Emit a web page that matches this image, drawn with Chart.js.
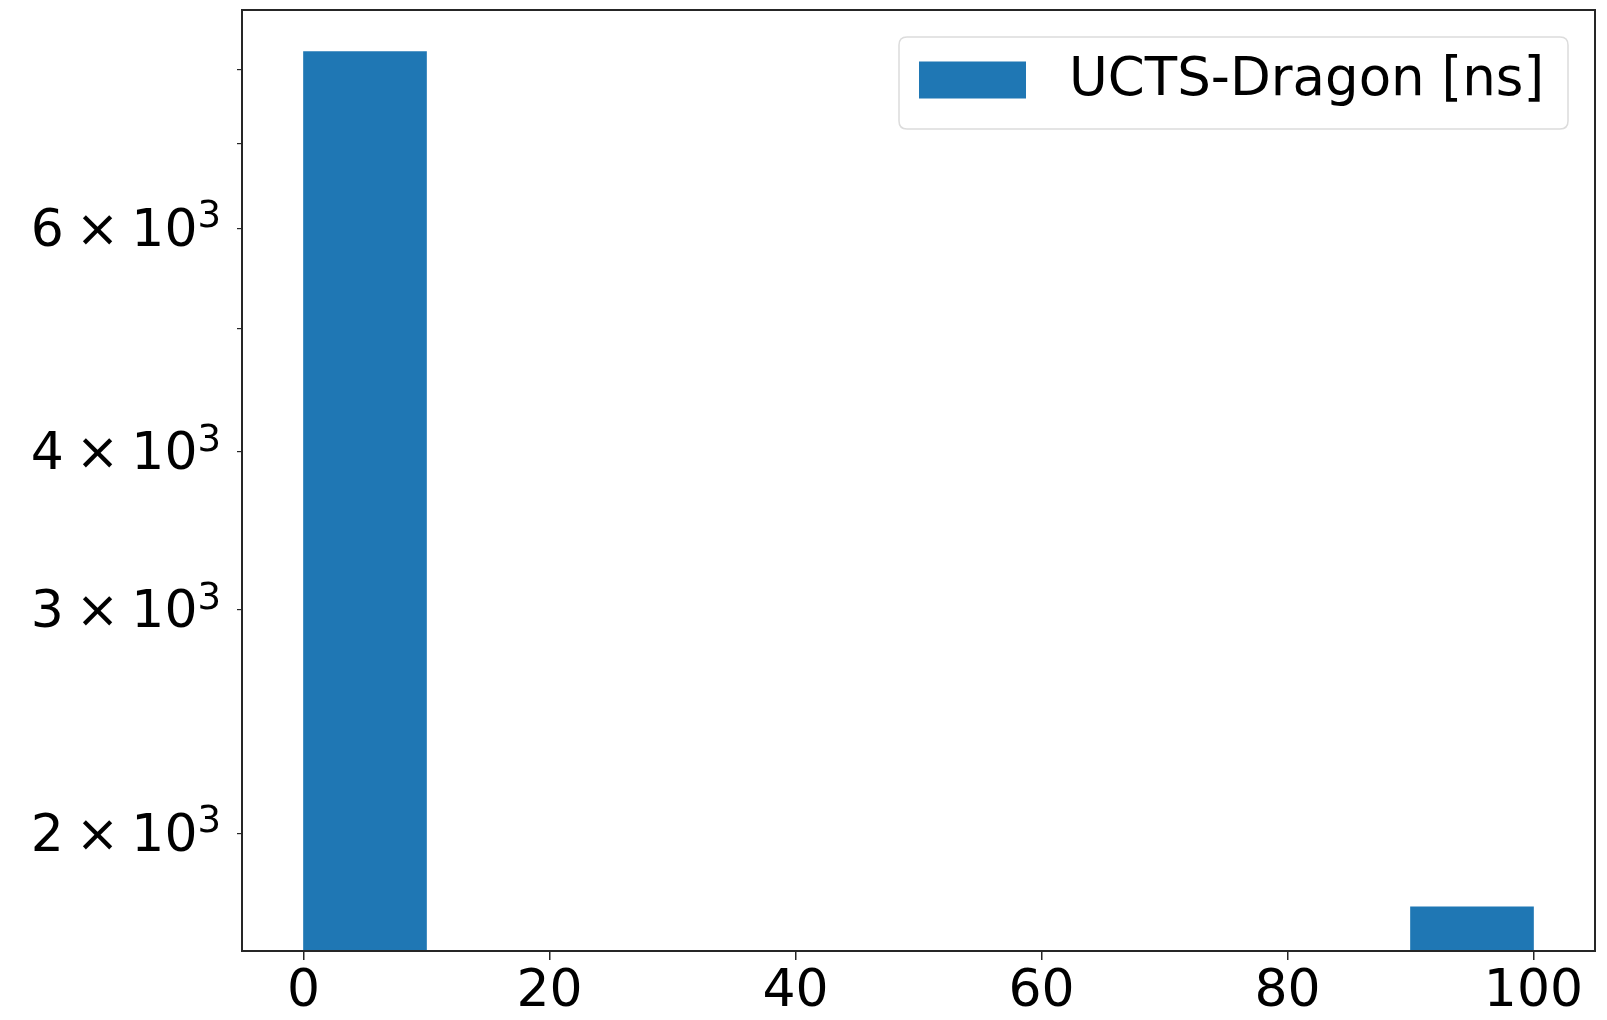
<!DOCTYPE html>
<html><head><meta charset="utf-8">
<script src="https://cdn.jsdelivr.net/npm/chart.js@4/dist/chart.umd.min.js"></script>
<style>html,body{margin:0;padding:0;background:#fff;overflow:hidden}#wrap{width:1607px;height:1020px;position:relative}</style>
</head><body><div id="wrap"><canvas id="c" width="1607" height="1020"></canvas></div>
<script>
const binCenters = [5, 15, 25, 35, 45, 55, 65, 75, 85, 95];
const counts = [8270, null, null, null, null, null, null, null, null, 1750];
const xTicks = [0, 20, 40, 60, 80, 100];
const yTicks = [2000, 3000, 4000, 5000, 6000, 7000, 8000];
const yLabeled = [2000, 3000, 4000, 6000];
const yExponent = 3;
const seriesLabel = 'UCTS-Dragon [ns]';
const barColor = '#1f77b4';
const FONT = "'DejaVu Sans', sans-serif";

const decor = {
  id: 'decor',
  afterDraw(chart) {
    const {ctx, chartArea: a} = chart;
    const ys = chart.scales.y;
    ctx.save();
    // spines
    ctx.strokeStyle = '#262626';
    ctx.lineWidth = 2;
    ctx.strokeRect(a.left, a.top, a.right - a.left, a.bottom - a.top);
    // y tick labels with mathtext-like superscript
    ctx.fillStyle = '#000';
    ctx.textAlign = 'right';
    ctx.textBaseline = 'alphabetic';
    const xr = a.left - 21;
    const gap = 12;
    yLabeled.forEach(v => {
      const y = ys.getPixelForValue(v);
      const mant = String(v / Math.pow(10, yExponent));
      ctx.font = '37px ' + FONT;
      const sup = String(yExponent);
      const wSup = ctx.measureText(sup).width;
      ctx.fillText(sup, xr, y - 1);
      ctx.font = '52px ' + FONT;
      let x = xr - wSup;
      ctx.fillText('10', x, y + 17.5);
      x -= ctx.measureText('10').width + gap;
      ctx.fillText('\u00d7', x, y + 17.5);
      x -= ctx.measureText('\u00d7').width + gap;
      ctx.fillText(mant, x, y + 17.5);
    });
    // legend
    const w = 669, h = 92;
    const x = a.right - 27 - w, y = a.top + 27;
    const r = 8;
    ctx.beginPath();
    ctx.moveTo(x + r, y); ctx.lineTo(x + w - r, y); ctx.quadraticCurveTo(x + w, y, x + w, y + r);
    ctx.lineTo(x + w, y + h - r); ctx.quadraticCurveTo(x + w, y + h, x + w - r, y + h);
    ctx.lineTo(x + r, y + h); ctx.quadraticCurveTo(x, y + h, x, y + h - r);
    ctx.lineTo(x, y + r); ctx.quadraticCurveTo(x, y, x + r, y); ctx.closePath();
    ctx.fillStyle = 'rgba(255,255,255,0.8)'; ctx.fill();
    ctx.strokeStyle = '#dcdcdc'; ctx.lineWidth = 1.5; ctx.stroke();
    ctx.fillStyle = chart.data.datasets[0].backgroundColor;
    ctx.fillRect(x + 20, y + 24.5, 107, 37);
    ctx.fillStyle = '#000';
    ctx.font = '53px ' + FONT;
    ctx.textBaseline = 'middle';
    ctx.textAlign = 'left';
    ctx.fillText(chart.data.datasets[0].label, x + 170, y + 44);
    ctx.restore();
  }
};

new Chart(document.getElementById('c'), {
  type: 'bar',
  data: {
    datasets: [{
      label: seriesLabel,
      data: binCenters.map((c, i) => ({x: c, y: counts[i]})),
      backgroundColor: barColor,
      borderWidth: 0,
      barPercentage: 1,
      categoryPercentage: 1
    }]
  },
  options: {
    responsive: false,
    animation: false,
    devicePixelRatio: 1,
    layout: {padding: {top: 10, right: 12, left: 0, bottom: 0}},
    plugins: {legend: {display: false}, tooltip: {enabled: false}, title: {display: false}},
    scales: {
      x: {
        type: 'linear', min: -5, max: 105, offset: false,
        afterBuildTicks: s => { s.ticks = xTicks.map(v => ({value: v})); },
        afterFit: s => { s.height = 69; s.paddingLeft = 0; s.paddingRight = 0; },
        grid: {display: true, offset: false, drawOnChartArea: false, drawTicks: true, tickLength: 9, color: '#262626', lineWidth: 1.5},
        border: {display: false},
        ticks: {color: '#000', font: {family: FONT, size: 52}, padding: 1, maxRotation: 0, autoSkip: false,
          callback: v => String(v)}
      },
      y: {
        type: 'logarithmic', min: 1615, max: 8917,
        afterBuildTicks: s => { s.ticks = yTicks.map(v => ({value: v})); },
        afterFit: s => { s.width = 242; s.paddingTop = 0; s.paddingBottom = 0; },
        grid: {display: true, offset: false, drawOnChartArea: false, drawTicks: true, tickLength: 5, color: '#262626', lineWidth: 1.2},
        border: {display: false},
        ticks: {display: true, color: 'rgba(0,0,0,0)', font: {family: FONT, size: 52}, padding: 17, autoSkip: false,
          callback: v => ''}
      }
    }
  },
  plugins: [decor]
});
</script></body></html>
